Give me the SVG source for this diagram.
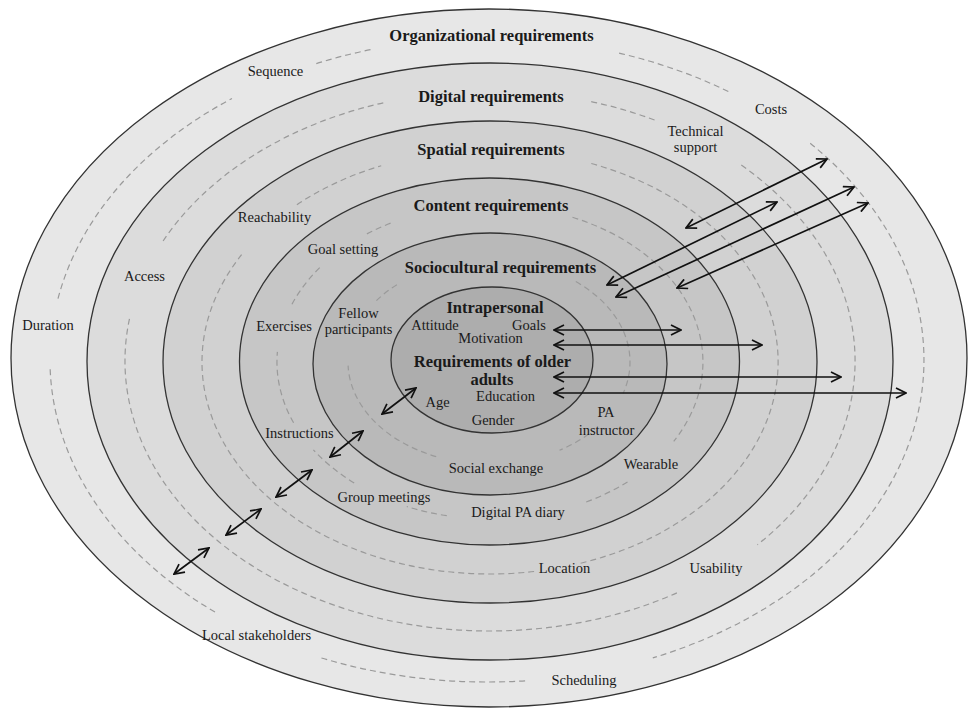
<svg xmlns="http://www.w3.org/2000/svg" width="968" height="708" viewBox="0 0 968 708">
<defs>
<style>
.ring{stroke:#333333;stroke-width:1.3}
.dash{fill:none;stroke:#9a9a9a;stroke-width:1.2;stroke-dasharray:6 4}
.t{font-family:"Liberation Serif","Times New Roman",serif;font-size:14.5px;fill:#1a1a1a;text-anchor:middle}
.b{font-family:"Liberation Serif","Times New Roman",serif;font-size:16.5px;font-weight:bold;fill:#1a1a1a;text-anchor:middle}
.arr{fill:none;stroke:#111;stroke-width:1.7;marker-start:url(#ah);marker-end:url(#ah)}
</style>
<marker id="ah" viewBox="0 0 12 12" refX="11" refY="6" markerWidth="12" markerHeight="12" markerUnits="userSpaceOnUse" orient="auto-start-reverse">
<path d="M1,1 L11,6 L1,11" fill="none" stroke="#111" stroke-width="1.7"/>
</marker>
</defs>
<rect width="968" height="708" fill="#ffffff"/>

<g id="organizational">
<ellipse class="ring" cx="489" cy="358" rx="478" ry="349" fill="#e7e7e7"/>
<path class="dash" d="M215.0,612.0 A437,322 0 0 1 50.1,367.3"/>
<path class="dash" d="M58.0,298.6 A437,322 0 0 1 232.0,98.5"/>
<path class="dash" d="M316.3,63.6 A437,322 0 0 1 373.9,49.0"/>
<path class="dash" d="M619.1,53.1 A437,322 0 0 1 731.4,93.1"/>
<path class="dash" d="M810.2,143.3 A437,322 0 0 1 652.8,657.9"/>
<path class="dash" d="M525.1,680.8 A437,322 0 0 1 321.2,657.9"/>
<text class="b" x="491.5" y="41">Organizational requirements</text>
<text class="t" x="275.5" y="76">Sequence</text>
<text class="t" x="771" y="114">Costs</text>
<text class="t" x="48" y="330">Duration</text>
<text class="t" x="256.5" y="640">Local stakeholders</text>
<text class="t" x="584" y="685">Scheduling</text>
</g>

<g id="digital">
<ellipse class="ring" cx="490" cy="361.5" rx="403" ry="298.5" fill="#dcdcdc"/>
<path class="dash" d="M163.1,241.0 A365,270 0 0 1 383.3,102.8"/>
<path class="dash" d="M591.2,101.6 A365,270 0 0 1 658.0,121.3"/>
<path class="dash" d="M741.3,165.1 A365,270 0 0 1 757.4,544.8"/>
<path class="dash" d="M676.9,592.9 A365,270 0 0 1 130.2,315.5"/>
<text class="b" x="491" y="102">Digital requirements</text>
<text class="t" x="695.5" y="136">Technical</text>
<text class="t" x="695.5" y="152">support</text>
<text class="t" x="144.5" y="281">Access</text>
<text class="t" x="716" y="573">Usability</text>
</g>

<g id="spatial">
<ellipse class="ring" cx="490" cy="362" rx="327" ry="241" fill="#d1d1d1"/>
<path class="dash" d="M296.9,204.7 A288,212 0 0 1 381.2,165.7"/>
<path class="dash" d="M591.3,163.5 A288,212 0 0 1 576.6,564.2"/>
<path class="dash" d="M534.1,571.5 A288,212 0 0 1 241.6,254.7"/>
<text class="b" x="491" y="155">Spatial requirements</text>
<text class="t" x="274.5" y="222">Reachability</text>
<text class="t" x="564.5" y="573">Location</text>
</g>

<g id="content">
<ellipse class="ring" cx="489.5" cy="361.5" rx="250" ry="183.5" fill="#c6c6c6"/>
<path class="dash" d="M366.9,233.9 A213,157 0 0 1 392.0,222.6"/>
<path class="dash" d="M572.5,217.3 A213,157 0 0 1 673.7,441.4"/>
<path class="dash" d="M627.5,481.9 A213,157 0 0 1 584.7,502.6"/>
<path class="dash" d="M446.8,515.7 A213,157 0 0 1 406.8,506.5"/>
<path class="dash" d="M354.2,483.0 A213,157 0 0 1 313.4,449.8"/>
<path class="dash" d="M293.6,422.8 A213,157 0 0 1 277.4,351.9"/>
<path class="dash" d="M292.0,304.2 A213,157 0 0 1 320.8,266.6"/>
<text class="b" x="491" y="211">Content requirements</text>
<text class="t" x="343" y="254">Goal setting</text>
<text class="t" x="284" y="331">Exercises</text>
<text class="t" x="299.5" y="438">Instructions</text>
<text class="t" x="384" y="502">Group meetings</text>
<text class="t" x="518" y="517">Digital PA diary</text>
<text class="t" x="651" y="469">Wearable</text>
</g>

<g id="sociocultural">
<ellipse class="ring" cx="490" cy="364" rx="177" ry="131" fill="#b9b9b9"/>
<path class="dash" d="M376.4,300.6 A141,102 0 0 1 400.3,282.7"/>
<path class="dash" d="M575.8,281.6 A141,102 0 0 1 623.1,393.5"/>
<path class="dash" d="M588.7,434.1 A141,102 0 0 1 559.5,450.3"/>
<path class="dash" d="M436.2,456.6 A141,102 0 0 1 348.1,365.6"/>
<text class="b" x="500.5" y="273">Sociocultural requirements</text>
<text class="t" x="358.5" y="318">Fellow</text>
<text class="t" x="358.5" y="334">participants</text>
<text class="t" x="606" y="417">PA</text>
<text class="t" x="606.5" y="435">instructor</text>
<text class="t" x="496" y="473">Social exchange</text>
</g>

<g id="intrapersonal">
<ellipse class="ring" cx="492" cy="360" rx="101" ry="73" fill="#adadad"/>
<text class="b" x="495" y="313">Intrapersonal</text>
<text class="t" x="435" y="330">Attitude</text>
<text class="t" x="529" y="330">Goals</text>
<text class="t" x="490.5" y="343">Motivation</text>
<text class="b" x="492.5" y="367">Requirements of older</text>
<text class="b" x="492" y="385">adults</text>
<text class="t" x="505.5" y="401">Education</text>
<text class="t" x="437.5" y="407">Age</text>
<text class="t" x="493" y="425">Gender</text>
</g>

<g id="connectors">
<line class="arr" x1="554" y1="330" x2="681" y2="330"/>
<line class="arr" x1="554" y1="345" x2="762" y2="345"/>
<line class="arr" x1="554" y1="377" x2="841" y2="377"/>
<line class="arr" x1="554" y1="393" x2="906" y2="393"/>
<line class="arr" x1="686" y1="228" x2="827" y2="159"/>
<line class="arr" x1="607" y1="285" x2="777" y2="202"/>
<line class="arr" x1="616" y1="297" x2="854" y2="187"/>
<line class="arr" x1="677" y1="288" x2="868" y2="203"/>
<line class="arr" x1="382" y1="414" x2="416" y2="388"/>
<line class="arr" x1="330" y1="457" x2="363" y2="431"/>
<line class="arr" x1="276" y1="497" x2="312" y2="470"/>
<line class="arr" x1="226" y1="535" x2="261" y2="509"/>
<line class="arr" x1="174" y1="574" x2="209" y2="548"/>
</g>
</svg>
